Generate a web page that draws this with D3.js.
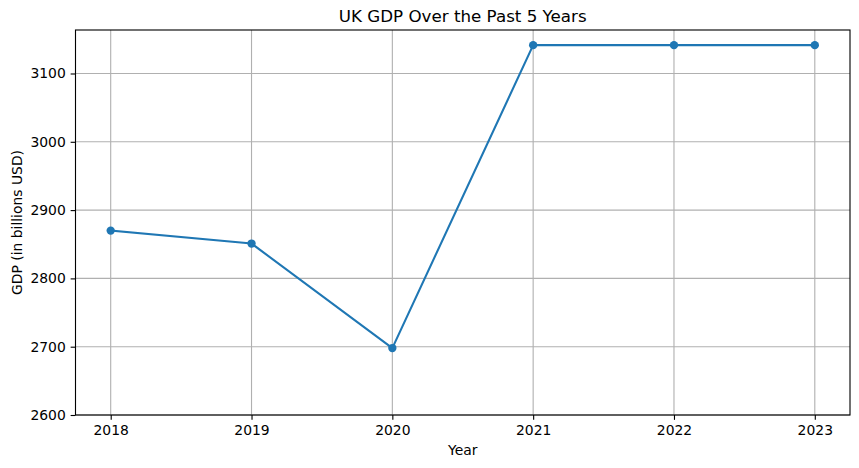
<!DOCTYPE html>
<html>
<head>
<meta charset="utf-8">
<script src="https://cdn.jsdelivr.net/npm/d3@7"></script>
<style>
  html, body { margin: 0; padding: 0; background: #fff; }
  svg { display: block; font-family: "DejaVu Sans", sans-serif; }
</style>
</head>
<body>
<svg id="chart" width="859" height="468"></svg>
<script>
const years = [2018, 2019, 2020, 2021, 2022, 2023];
const gdp = [2870, 2851, 2698, 3141.5, 3141.5, 3141.5];
const yTicks = [2600, 2700, 2800, 2900, 3000, 3100];
const title = "UK GDP Over the Past 5 Years";
const xLabel = "Year";
const yLabel = "GDP (in billions USD)";

const svg = d3.select("#chart");
const m = { left: 75.5, right: 850, top: 30, bottom: 415 };
const color = "#1f77b4";

const x = d3.scaleLinear().domain([2017.75, 2023.25]).range([m.left, m.right]);
const yMax = d3.max(gdp) + 0.05 * (d3.max(gdp) - d3.min(gdp));
const y = d3.scaleLinear().domain([2600, yMax]).range([m.bottom, m.top]);

// grid
const g = svg.append("g");
g.selectAll("line.vx").data(years).join("line")
  .attr("x1", d => x(d)).attr("x2", d => x(d))
  .attr("y1", m.top).attr("y2", m.bottom)
  .attr("stroke", "#b0b0b0").attr("stroke-width", 1.11);
g.selectAll("line.hy").data(yTicks).join("line")
  .attr("x1", m.left).attr("x2", m.right)
  .attr("y1", d => y(d)).attr("y2", d => y(d))
  .attr("stroke", "#b0b0b0").attr("stroke-width", 1.11);

// line
const line = d3.line().x((d, i) => x(years[i])).y(d => y(d));
svg.append("path").datum(gdp)
  .attr("d", line).attr("fill", "none")
  .attr("stroke", color).attr("stroke-width", 2.08)
  .attr("stroke-linejoin", "round").attr("stroke-linecap", "square");
svg.selectAll("circle").data(gdp).join("circle")
  .attr("cx", (d, i) => x(years[i])).attr("cy", d => y(d))
  .attr("r", 4.17).attr("fill", color);

// axes
const xAxis = d3.axisBottom(x).tickValues(years).tickFormat(d3.format("d"))
  .tickSize(4.86).tickPadding(4.86).tickSizeOuter(0);
const yAxis = d3.axisLeft(y).tickValues(yTicks).tickFormat(d3.format("d"))
  .tickSize(4.86).tickPadding(4.86).tickSizeOuter(0);
const gx = svg.append("g").attr("transform", `translate(0,${m.bottom})`).call(xAxis);
const gy = svg.append("g").attr("transform", `translate(${m.left},0)`).call(yAxis);
[gx, gy].forEach(a => {
  a.select(".domain").remove();
  a.selectAll("line").attr("stroke", "#000").attr("stroke-width", 1.11);
  a.selectAll("text").attr("fill", "#000").style("font-size", "13.9px")
    .style("font-family", "'DejaVu Sans', sans-serif");
});

// frame
svg.append("rect")
  .attr("x", m.left).attr("y", m.top)
  .attr("width", m.right - m.left).attr("height", m.bottom - m.top)
  .attr("fill", "none").attr("stroke", "#000").attr("stroke-width", 1.11);

// labels
svg.append("text").attr("x", (m.left + m.right) / 2).attr("y", 21.7)
  .attr("text-anchor", "middle").style("font-size", "16.7px").text(title);
svg.append("text").attr("x", (m.left + m.right) / 2).attr("y", 455.3)
  .attr("text-anchor", "middle").style("font-size", "13.9px").text(xLabel);
svg.append("text")
  .attr("transform", `translate(21.5,${(m.top + m.bottom) / 2}) rotate(-90)`)
  .attr("text-anchor", "middle").style("font-size", "13.9px").text(yLabel);
</script>
</body>
</html>
